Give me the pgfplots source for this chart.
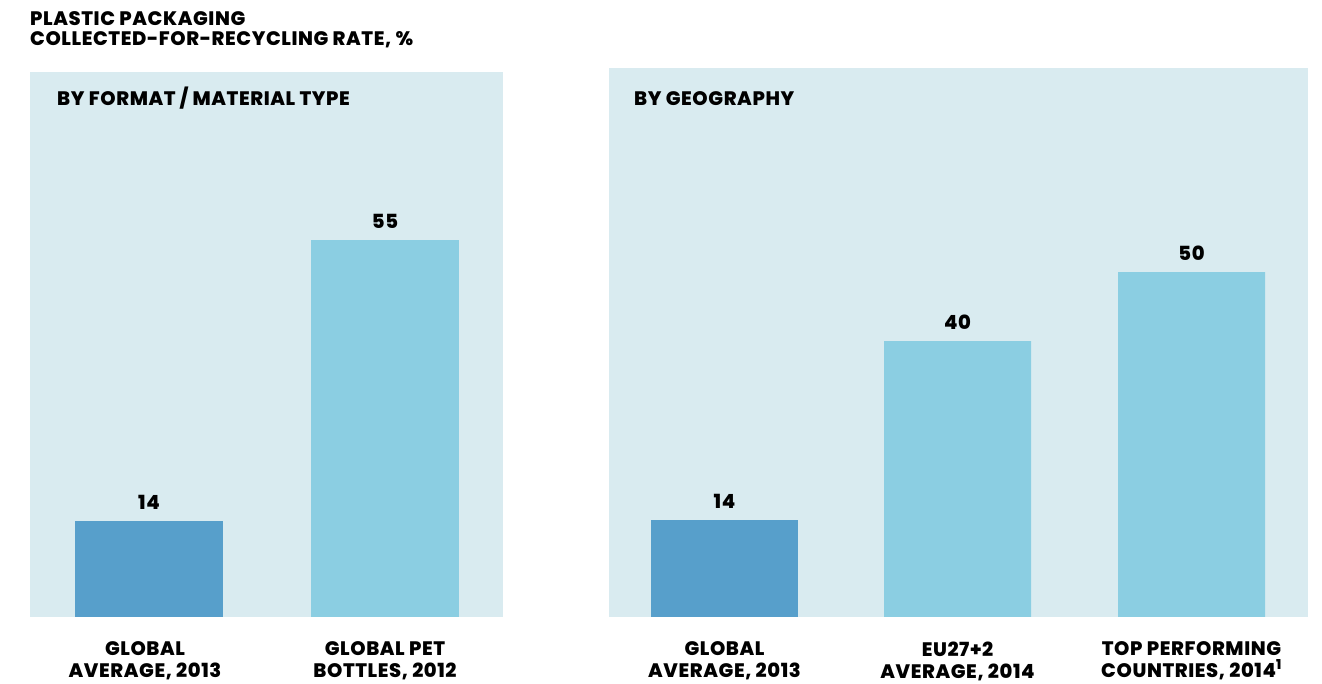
\documentclass[border=0pt]{standalone}
\usepackage{fontspec}
\setmainfont{Poppins}[BoldFont={Poppins ExtraBold}, LetterSpace=3]
\usepackage{pgfplots}
\pgfplotsset{compat=1.18}
\definecolor{panel}{HTML}{D9EBF0}
\definecolor{darkbar}{HTML}{579FCB}
\definecolor{lightbar}{HTML}{8BCEE2}
\newcommand\lbl{\fontsize{19.5}{22}\selectfont\bfseries}

\pgfplotsset{panel/.style={
  scale only axis, anchor=south west, ybar, bar shift=0pt, ymin=0,
  enlargelimits=false,
  axis line style={draw=none}, tick style={draw=none}, ytick=\empty,
  axis background/.style={fill=panel},
  xticklabel style={align=center, anchor=north, inner sep=0pt, yshift=-20pt, font=\lbl},
  /pgf/number format/assume math mode=true,
  nodes near coords,
  every node near coord/.append style={anchor=base, inner sep=0pt, yshift=11.7pt, font=\lbl, text=black},
}}

\begin{document}
\begin{tikzpicture}
\useasboundingbox (0,0) rectangle (1322pt,684pt);
\node[anchor=base west, inner sep=0pt, font=\lbl] at (30pt,658pt) {PLASTIC PACKAGING};
\node[anchor=base west, inner sep=0pt, font=\lbl] at (30pt,638pt) {COLLECTED-FOR-RECYCLING RATE, \%};

% left panel: by format / material type
\begin{axis}[panel, at={(30pt,67pt)}, width=473pt, height=545pt,
  xmin=0, xmax=473, ymax=79.5, bar width=148,
  xtick={115,355},
  xticklabels={{GLOBAL\\AVERAGE, 2013},{GLOBAL PET\\BOTTLES, 2012}}]
  \addplot[fill=darkbar, draw=none] coordinates {(119,14)};
  \addplot[fill=lightbar, draw=none] coordinates {(355,55)};
\end{axis}
\node[anchor=base west, inner sep=0pt, font=\lbl] at (57pt,578pt) {BY FORMAT / MATERIAL TYPE};

% right panel: by geography
\begin{axis}[panel, at={(609pt,67pt)}, width=699pt, height=549pt,
  xmin=0, xmax=699, ymax=79.57, bar width=147,
  xtick={115.5,348.5,582.5},
  xticklabels={{GLOBAL\\AVERAGE, 2013},{EU27+2\\AVERAGE, 2014},{TOP PERFORMING\\COUNTRIES, 2014\textsuperscript{1}}}]
  \addplot[fill=darkbar, draw=none] coordinates {(115.5,14)};
  \addplot[fill=lightbar, draw=none] coordinates {(348.5,40) (582.5,50)};
\end{axis}
\node[anchor=base west, inner sep=0pt, font=\lbl] at (634pt,578pt) {BY GEOGRAPHY};
\end{tikzpicture}
\end{document}
